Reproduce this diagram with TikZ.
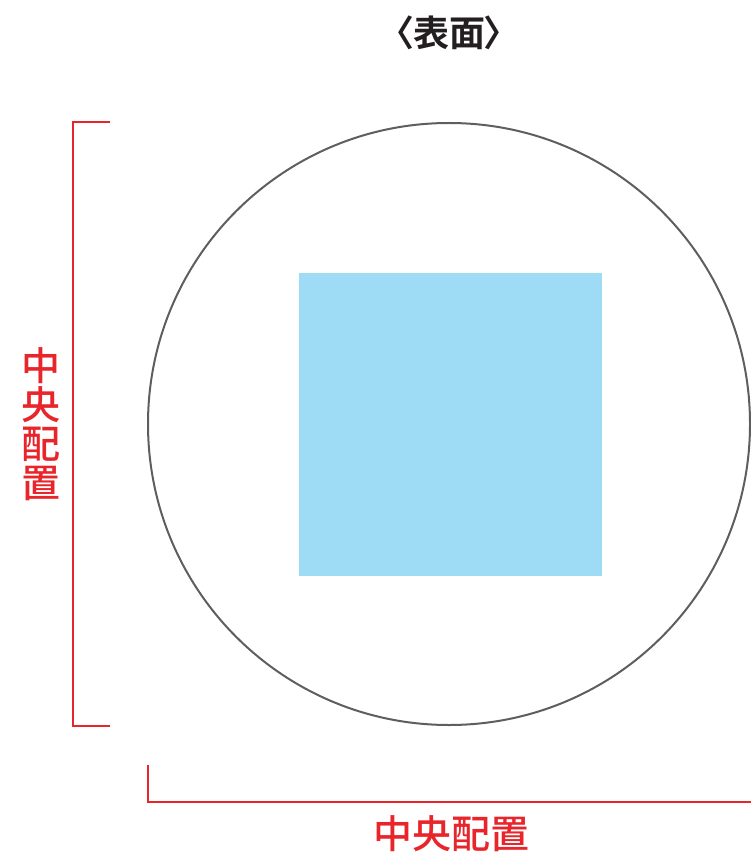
\documentclass[tikz,border=0pt]{standalone}
\usepackage{fontspec}
\newfontfamily\jp[RawFeature=+palt]{Noto Sans CJK JP Medium}
\newfontfamily\jpb[RawFeature=+palt]{Noto Sans CJK JP Bold}
\definecolor{redl}{HTML}{E8252B}
\definecolor{rim}{HTML}{5E5E5E}
\definecolor{sky}{HTML}{9EDCF6}
\definecolor{ink}{HTML}{231F20}
\tikzset{
  bracket/.style={draw=redl, line width=1.8pt},
  lab/.style={text=redl, inner sep=0pt, font=\jp\fontsize{39}{39}\selectfont},
}
\begin{document}
\begin{tikzpicture}[x=1pt,y=-1pt]
\useasboundingbox (0,0) rectangle (750,858);
\node[inner sep=0pt, text=ink, font=\jpb\fontsize{36}{36}\selectfont] (title) at (449,33) {〈表面〉};
\node[circle, draw=rim, line width=2pt, minimum size=602pt, inner sep=0pt] (disc) at (449,424) {};
\node[fill=sky, minimum size=303pt, inner sep=0pt] (sq) at (450.5,424.5) {};
\coordinate (lt) at (110,122);
\coordinate (lb) at (110,726);
\draw[bracket] (lt) -- (73,122) -- (73,726) -- (lb);
\coordinate (bl) at (148,765);
\coordinate (br) at (752,802);
\draw[bracket] (bl) -- (148,802) -- (br);
\node[lab, align=center] (vlab) at (41,424) {中\\央\\配\\置};
\node[lab] (hlab) at (451,834) {中央配置};
\end{tikzpicture}
\end{document}
